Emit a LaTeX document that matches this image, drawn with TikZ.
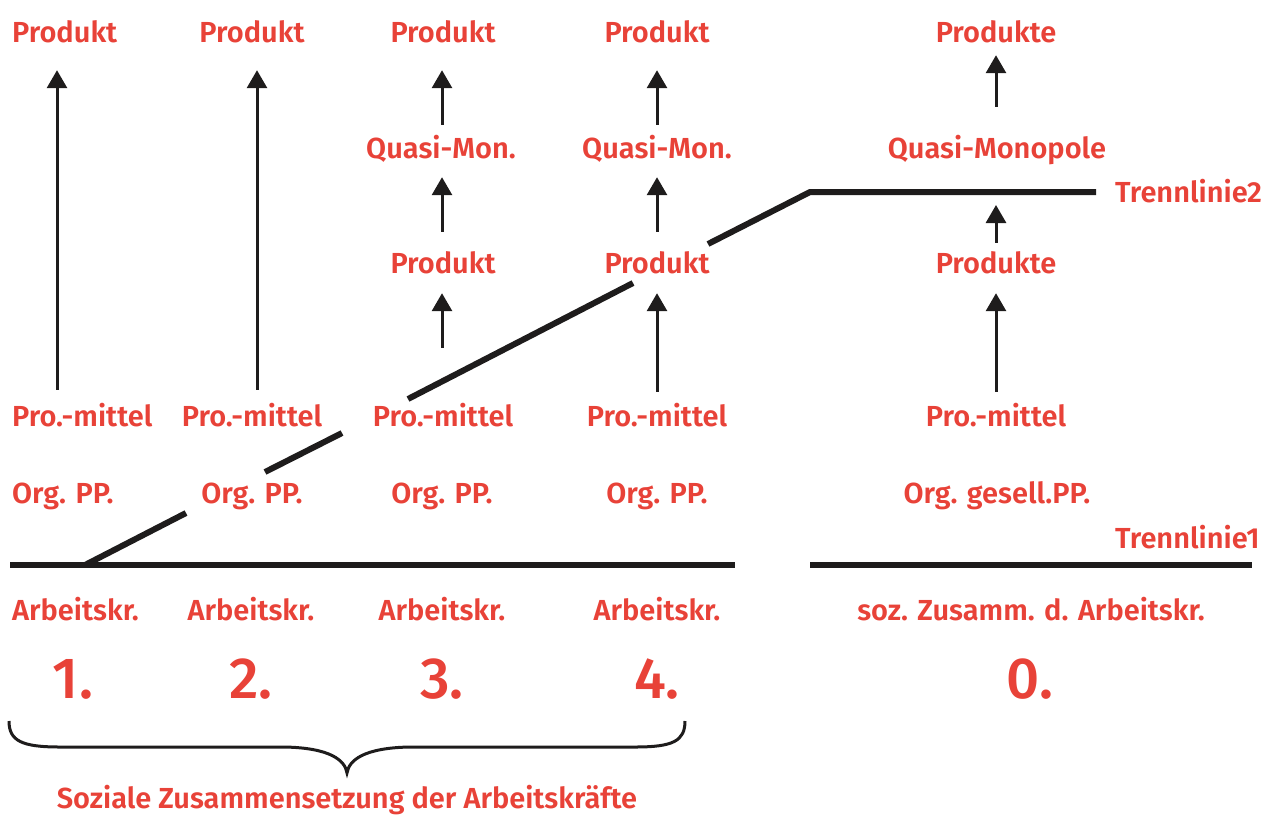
\documentclass[tikz,border=0pt]{standalone}
\usepackage{fontspec}
\setmainfont{Fira Sans}[UprightFont=* SemiBold]
\newfontfamily\numfont{Fira Sans}[UprightFont=* Medium]
\usetikzlibrary{arrows.meta}
\definecolor{tred}{RGB}{232,66,56}
\definecolor{ink}{RGB}{30,28,28}
\begin{document}
\begin{tikzpicture}[x=1pt,y=-1pt,
 lbl/.style={text=tred, font=\fontsize{29}{29}\selectfont, inner sep=0pt, text height=20pt, text depth=0pt},
 num/.style={text=tred, font=\numfont\fontsize{58}{58}\selectfont, inner sep=0pt, text height=40pt, text depth=0pt},
 arr/.style={line width=3pt, draw=ink, -{Triangle[width=20pt,length=18pt]}},
 sepline/.style={line width=6pt, draw=ink},
 brace/.style={line width=3pt, draw=ink},
]
\useasboundingbox (0,0) rectangle (1261,815);
% column x markers
\coordinate (x1) at (57,0);
\coordinate (x2) at (257,0);
\coordinate (x3) at (442,0);
\coordinate (x4) at (657,0);
\coordinate (x0) at (996,0);
% column 1
\node[lbl, anchor=west] (p1) at (12,32) {Produkt};
\node[lbl, anchor=west] (pm1) at (12,416) {Pro.-mittel};
\node[lbl, anchor=west] (org1) at (12,493) {Org. PP.};
\node[lbl, anchor=west] (ak1) at (12,610) {Arbeitskr.};
\node[num] (n1) at (73,678) {1.};
% column 2
\node[lbl] (p2) at (252,32) {Produkt};
\node[lbl] (pm2) at (252,416) {Pro.-mittel};
\node[lbl] (org2) at (252,493) {Org. PP.};
\node[lbl] (ak2) at (251,610) {Arbeitskr.};
\node[num] (n2) at (251,678) {2.};
% column 3
\node[lbl] (p3t) at (443,32) {Produkt};
\node[lbl] (q3) at (441,148) {Quasi-Mon.};
\node[lbl] (p3m) at (443,263) {Produkt};
\node[lbl] (pm3) at (443,416) {Pro.-mittel};
\node[lbl] (org3) at (442,493) {Org. PP.};
\node[lbl] (ak3) at (442,610) {Arbeitskr.};
\node[num] (n3) at (442,678) {3.};
% column 4
\node[lbl] (p4t) at (657,32) {Produkt};
\node[lbl] (q4) at (657,148) {Quasi-Mon.};
\node[lbl] (p4m) at (657,263) {Produkt};
\node[lbl] (pm4) at (657,416) {Pro.-mittel};
\node[lbl] (org4) at (657,493) {Org. PP.};
\node[lbl] (ak4) at (657,610) {Arbeitskr.};
\node[num] (n4) at (657,678) {4.};
% column 0
\node[lbl] (p0t) at (996,32) {Produkte};
\node[lbl] (q0) at (997,148) {Quasi-Monopole};
\node[lbl] (p0m) at (996,263) {Produkte};
\node[lbl] (pm0) at (996,416) {Pro.-mittel};
\node[lbl] (org0) at (997,493) {Org. gesell.PP.};
\node[lbl] (ak0) at (1031,610) {soz. Zusamm. d. Arbeitskr.};
\node[num] (n0) at (1030,678) {0.};
% line labels
\node[lbl, anchor=west] (tl2) at (1115,192) {Trennlinie2};
\node[lbl, anchor=west] (tl1) at (1115,538) {Trennlinie1};
\node[lbl] (soz) at (347,798) {Soziale Zusammensetzung der Arbeitskräfte};
% arrows
\draw[arr, shorten <=16pt, shorten >=28pt] (pm1.north -| x1) -- (p1.south -| x1);
\draw[arr, shorten <=16pt, shorten >=28pt] (pm2.north -| x2) -- (p2.south -| x2);
\draw[arr, shorten <=13pt, shorten >=28pt] (q3.north -| x3) -- (p3t.south -| x3);
\draw[arr, shorten <=21pt, shorten >=19pt] (p3m.north -| x3) -- (q3.south -| x3);
\draw[arr, shorten <=58pt, shorten >=20pt] (pm3.north -| x3) -- (p3m.south -| x3);
\draw[arr, shorten <=13pt, shorten >=28pt] (q4.north -| x4) -- (p4t.south -| x4);
\draw[arr, shorten <=21pt, shorten >=19pt] (p4m.north -| x4) -- (q4.south -| x4);
\draw[arr, shorten <=14pt, shorten >=20pt] (pm4.north -| x4) -- (p4m.south -| x4);
\draw[arr, shorten <=31pt, shorten >=13pt] (q0.north -| x0) -- (p0t.south -| x0);
\coordinate (t2a) at (996,192);
\draw[arr, shorten <=10pt, shorten >=13pt] (p0m.north -| x0) -- (t2a);
\draw[arr, shorten <=14pt, shorten >=20pt] (pm0.north -| x0) -- (p0m.south -| x0);
% Trennlinie 1
\draw[sepline] (10,565) -- (735,565);
\draw[sepline] (810,565) -- (1252,565);
% Trennlinie 2 (diagonal, interrupted by labels)
\draw[sepline] (85,565) -- (186,513);
\draw[sepline] (265,472) -- (342,433);
\draw[sepline] (408,399) -- (633,283);
\draw[sepline, line join=miter] (708,244) -- (810,192) -- (1096,192);
% brace
\draw[brace] (9,721) .. controls (9,741) and (22,747) .. (60,747)
  -- (285,747) .. controls (330,748) and (345,760) .. (347,773)
  .. controls (349,760) and (364,748) .. (409,747)
  -- (635,747) .. controls (673,747) and (685,741) .. (685,721);
\end{tikzpicture}
\end{document}
